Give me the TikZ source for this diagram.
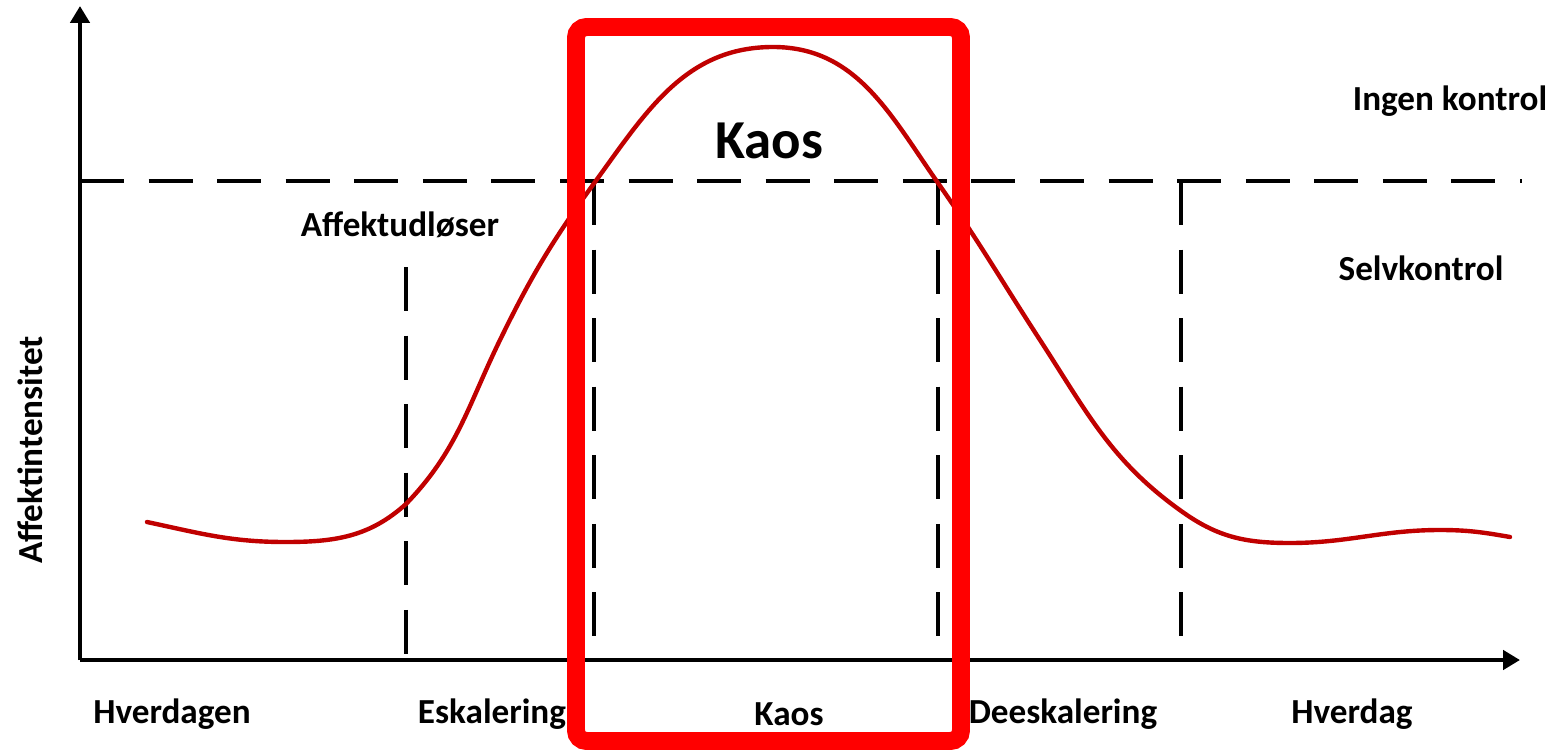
\documentclass[tikz,border=0pt]{standalone}
\usepackage{fontspec}
\setmainfont{Carlito}
\usetikzlibrary{arrows.meta}
\definecolor{affektred}{RGB}{192,0,0}
\tikzset{axis/.style={line width=1.4pt, -{Triangle[width=5.4pt,length=4.8pt]}}}
\tikzset{limit/.style={line width=1.35pt, dash pattern=on 12.5pt off 7pt}}
\tikzset{lbl/.style={font=\bfseries\fontsize{10}{12}\selectfont, inner sep=0pt}}
\tikzset{kaosbox/.style={draw=red, line width=5.1pt, rounded corners=3pt}}

\begin{document}
\begin{tikzpicture}[x=0.01cm, y=-0.01cm]
\useasboundingbox (0,0) rectangle (1559,754);
\coordinate (o) at (80,660);
\coordinate (ytop) at (80,6);
\coordinate (xend) at (1520,660);
% axes and limits
\draw[limit] (80,181) -- (1522,181);
\draw[limit] (406,267) -- (406,660);
\draw[limit] (594,181) -- (594,660);
\draw[limit] (938,181) -- (938,660);
\draw[limit] (1181,181) -- (1181,660);
\draw[axis] (o) -- (ytop);
\draw[axis] (o) -- (xend);
% affect curve
\draw[affektred, line width=1.25pt, line cap=round]
  (147,522) to[out=-12, in=180] (285,542)
  to[out=0, in=-138] (406,504)
  to[out=46, in=-116] (500,340)
  to[out=64, in=-126] (595,182)
  to[out=54, in=180] (773,47)
  to[out=0, in=125] (938,183)
  to[out=-55, in=123] (1040,340)
  to[out=-57, in=145] (1184,513)
  to[out=-35, in=180] (1290,543)
  to[out=0, in=180] (1440,530)
  to[out=0, in=170] (1510,537);
% labels
\node[lbl] (ingen) at (1450,101) {Ingen kontrol};
\node[lbl] (selv) at (1421,268) {Selvkontrol};
\node[lbl] (udloser) at (400,225) {Affektudløser};
\node[lbl, font=\bfseries\fontsize{15.6}{18}\selectfont] (kaos) at (769,141) {Kaos};
\node[lbl, rotate=90] (yakse) at (30,450) {Affektintensitet};
\node[lbl] (hverdagen) at (172,714) {Hverdagen};
\node[lbl] (eskalering) at (492,714) {Eskalering};
\node[lbl] (kaosfase) at (789,714) {Kaos};
\node[lbl] (deeskalering) at (1063,714) {Deeskalering};
\node[lbl] (hverdag) at (1352,714) {Hverdag};
% highlight
\draw[kaosbox] (576,27) rectangle (961,741);
\end{tikzpicture}
\end{document}
